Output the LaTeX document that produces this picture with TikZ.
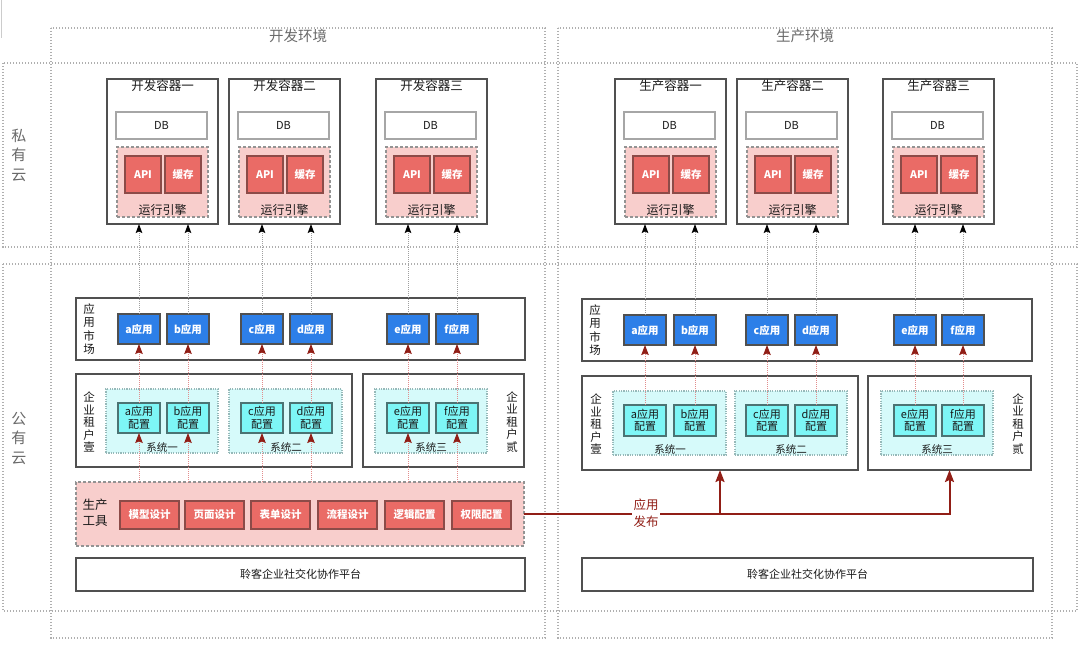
\documentclass[tikz,border=0pt]{standalone}
\usepackage{fontspec}
\setmainfont{Noto Sans CJK SC}
\usetikzlibrary{arrows.meta}
\definecolor{txt}{RGB}{25,25,25}
\definecolor{bd}{RGB}{80,80,80}
\definecolor{outerc}{RGB}{175,175,175}
\definecolor{enpink}{RGB}{248,206,204}
\definecolor{apired}{RGB}{234,107,102}
\definecolor{redbd}{RGB}{140,75,72}
\definecolor{appblue}{RGB}{45,127,232}
\definecolor{cfgcyan}{RGB}{125,246,246}
\definecolor{cfgbd}{RGB}{75,115,115}
\definecolor{syscyan}{RGB}{214,250,250}
\definecolor{sysbd}{RGB}{150,185,185}
\definecolor{reddot}{RGB}{226,140,140}
\definecolor{darkred}{RGB}{145,30,22}
\definecolor{graytxt}{RGB}{105,105,105}
\newcommand\mkbox[7]{%
  \node[#2, minimum width={((#5)-(#3))*1pt}, minimum height={((#6)-(#4))*1pt}] (#1) at ({((#3)+(#5))/2},{((#4)+(#6))/2}) {#7};}
\newcommand\mkcont[3]{%
  \mkbox{#1}{cont}{#2}{79}{#2+111}{224}{}
  \node[ctitle] at ({#2+55.5},86) {#3};
  \mkbox{#1db}{dbbox}{#2+9}{112}{#2+100}{139}{DB}
  \mkbox{#1en}{engine}{#2+10}{147}{#2+101}{217}{}
  \mkbox{#1api}{redbox}{#2+18}{156}{#2+54}{193}{API}
  \mkbox{#1cache}{redbox}{#2+58}{156}{#2+94}{193}{缓存}
  \node[enlabel] at ({#2+55.5},210) {运行引擎};}
\begin{document}
\begin{tikzpicture}[x=1pt,y=-1pt,
  every node/.style={inner sep=0pt, outer sep=0pt},
  outer/.style={draw=outerc, line width=1.2pt, dash pattern=on 1.3pt off 1.7pt},
  cont/.style={draw=bd, line width=1.6pt, fill=white},
  ctitle/.style={text=txt, font=\fontsize{12.5}{14}\selectfont},
  enlabel/.style={text=txt, font=\fontsize{12}{14}\selectfont},
  dbbox/.style={draw=gray!70, line width=1.2pt, fill=white, text=txt, font=\fontsize{11}{13}\selectfont},
  engine/.style={draw=gray!85, line width=1.1pt, dash pattern=on 3pt off 2pt, fill=enpink},
  redbox/.style={draw=redbd, line width=1.1pt, fill=apired, text=white, font=\bfseries\fontsize{10.5}{12}\selectfont},
  appbox/.style={draw=bd, line width=1.1pt, fill=appblue, text=white, font=\bfseries\fontsize{10.5}{12}\selectfont},
  cfgbox/.style={draw=cfgbd, line width=1.1pt, fill=cfgcyan, text=txt, align=center, font=\fontsize{11}{12.5}\selectfont},
  sysbox/.style={draw=sysbd, line width=1.1pt, dash pattern=on 1.2pt off 1.2pt, fill=syscyan},
  sysl/.style={text=txt, font=\fontsize{10.5}{12}\selectfont},
  group/.style={draw=bd, line width=1.6pt, fill=white},
  vlab/.style={text=txt, align=center, font=\fontsize{11.5}{13.5}\selectfont},
  tlab/.style={text=txt, align=center, font=\fontsize{11.5}{12.5}\selectfont},
  cloudl/.style={text=graytxt, align=center, font=\fontsize{15}{19.5}\selectfont},
  envl/.style={text=graytxt, font=\fontsize{14.5}{16}\selectfont},
  tools/.style={draw=gray!85, line width=1.1pt, dash pattern=on 3pt off 2pt, fill=enpink},
  plat/.style={draw=bd, line width=1.6pt, fill=white, text=txt, font=\fontsize{11}{13}\selectfont},
  graydot/.style={draw=gray!75, line width=1pt, dash pattern=on 1pt off 1pt, -{Stealth[length=9pt,width=6.5pt,inset=1.5pt,black]}},
  reddot/.style={draw=reddot, line width=1pt, dash pattern=on 1pt off 1pt, -{Stealth[length=10pt,width=7.5pt,inset=1.5pt,darkred]}},
  pub/.style={draw=darkred, line width=2pt, -{Stealth[length=12pt,width=9pt,inset=2pt]}},
]
\useasboundingbox (0,0) rectangle (1080,652);
% outer dotted regions
\draw[draw=gray!40, line width=1pt] (1.5,0) -- (1.5,38);
\draw[outer] (51,28) rectangle (545,638);
\draw[outer] (558,28) rectangle (1052,638);
\draw[outer] (3,63) rectangle (1077,247);
\draw[outer] (3,264) rectangle (1077,611);
\node[envl] (envdev) at (298,36) {开发环境};
\node[envl] (envprod) at (805,36) {生产环境};
\node[cloudl] (priv) at (19,155) {私\\有\\云};
\node[cloudl] (pub) at (19,438) {公\\有\\云};
% containers
\mkcont{dc1}{107}{开发容器一}
\mkcont{dc2}{229}{开发容器二}
\mkcont{dc3}{376}{开发容器三}
\mkcont{pc1}{615}{生产容器一}
\mkcont{pc2}{737}{生产容器二}
\mkcont{pc3}{883}{生产容器三}
% app markets
\mkbox{dmk}{group}{76}{298}{525}{360}{}
\node[vlab] at (89,329) {应\\用\\市\\场};
\mkbox{pmk}{group}{582}{299}{1032}{361}{}
\node[vlab] at (595,330) {应\\用\\市\\场};
\mkbox{daapp}{appbox}{118}{314}{160}{344}{a应用}
\mkbox{dbapp}{appbox}{167}{314}{209}{344}{b应用}
\mkbox{dcapp}{appbox}{241}{314}{283}{344}{c应用}
\mkbox{ddapp}{appbox}{290}{314}{332}{344}{d应用}
\mkbox{deapp}{appbox}{387}{314}{429}{344}{e应用}
\mkbox{dfapp}{appbox}{436}{314}{478}{344}{f应用}
\mkbox{paapp}{appbox}{624}{315}{666}{345}{a应用}
\mkbox{pbapp}{appbox}{674}{315}{716}{345}{b应用}
\mkbox{pcapp}{appbox}{746}{315}{788}{345}{c应用}
\mkbox{pdapp}{appbox}{795}{315}{837}{345}{d应用}
\mkbox{peapp}{appbox}{894}{315}{936}{345}{e应用}
\mkbox{pfapp}{appbox}{942}{315}{984}{345}{f应用}
% tenants
\mkbox{dt1}{group}{76}{374}{352}{467}{}
\node[tlab] at (89,422) {企\\业\\租\\户\\壹};
\mkbox{dt2}{group}{363}{374}{524}{467}{}
\node[tlab] at (512,422) {企\\业\\租\\户\\贰};
\mkbox{pt1}{group}{582}{376}{858}{470}{}
\node[tlab] at (596,424) {企\\业\\租\\户\\壹};
\mkbox{pt2}{group}{868}{376}{1031}{470}{}
\node[tlab] at (1018,424) {企\\业\\租\\户\\贰};
% systems
\mkbox{ds1}{sysbox}{106}{389}{218}{453}{}
\mkbox{ds2}{sysbox}{229}{389}{342}{453}{}
\mkbox{ds3}{sysbox}{375}{389}{487}{453}{}
\node[sysl] at (162,447) {系统一};
\node[sysl] at (286,447) {系统二};
\node[sysl] at (431,447) {系统三};
\mkbox{ps1}{sysbox}{613}{391}{726}{455}{}
\mkbox{ps2}{sysbox}{735}{391}{847}{455}{}
\mkbox{ps3}{sysbox}{881}{391}{993}{455}{}
\node[sysl] at (670,449) {系统一};
\node[sysl] at (791,449) {系统二};
\node[sysl] at (937,449) {系统三};
% configs
\mkbox{dacfg}{cfgbox}{118}{403}{160}{433}{a应用\\配置}
\mkbox{dbcfg}{cfgbox}{167}{403}{209}{433}{b应用\\配置}
\mkbox{dccfg}{cfgbox}{241}{403}{283}{433}{c应用\\配置}
\mkbox{ddcfg}{cfgbox}{290}{403}{332}{433}{d应用\\配置}
\mkbox{decfg}{cfgbox}{387}{403}{429}{433}{e应用\\配置}
\mkbox{dfcfg}{cfgbox}{436}{403}{478}{433}{f应用\\配置}
\mkbox{pacfg}{cfgbox}{624}{405}{666}{436}{a应用\\配置}
\mkbox{pbcfg}{cfgbox}{674}{405}{716}{436}{b应用\\配置}
\mkbox{pccfg}{cfgbox}{746}{405}{788}{436}{c应用\\配置}
\mkbox{pdcfg}{cfgbox}{795}{405}{837}{436}{d应用\\配置}
\mkbox{pecfg}{cfgbox}{894}{405}{936}{436}{e应用\\配置}
\mkbox{pfcfg}{cfgbox}{942}{405}{984}{436}{f应用\\配置}
% production tools
\mkbox{tools}{tools}{76}{482}{524}{546}{}
\node[text=txt, align=center, font=\fontsize{12.5}{16}\selectfont] at (95,513) {生产\\工具};
\mkbox{t1}{redbox}{120}{501}{179}{529}{模型设计}
\mkbox{t2}{redbox}{185}{501}{244}{529}{页面设计}
\mkbox{t3}{redbox}{251}{501}{310}{529}{表单设计}
\mkbox{t4}{redbox}{318}{501}{377}{529}{流程设计}
\mkbox{t5}{redbox}{385}{501}{444}{529}{逻辑配置}
\mkbox{t6}{redbox}{452}{501}{511}{529}{权限配置}
% platforms
\mkbox{dplat}{plat}{76}{558}{525}{591}{聆客企业社交化协作平台}
\mkbox{pplat}{plat}{582}{558}{1033}{591}{聆客企业社交化协作平台}
% connectors
\foreach \a/\c in {a/dc1,b/dc1,c/dc2,d/dc2,e/dc3,f/dc3}{
  \draw[graydot] (d\a app.north) -- (d\a app.north |- \c.south);
  \draw[reddot] (d\a cfg.north) -- (d\a app.south);
  \draw[reddot] (d\a cfg.south |- tools.north) -- (d\a cfg.south);
}
\foreach \a/\c in {a/pc1,b/pc1,c/pc2,d/pc2,e/pc3,f/pc3}{
  \draw[graydot] (p\a app.north) -- (p\a app.north |- \c.south);
  \draw[reddot] (p\a cfg.north) -- (p\a app.south);
}
\draw[pub] (tools.east) -| (pt2.south);
\draw[pub] (tools.east -| pt1.south) -- (pt1.south);
\node[fill=white, inner sep=1.5pt, text=darkred, align=center, font=\fontsize{12.5}{17}\selectfont] (publbl) at (646,513) {应用\\发布};
\end{tikzpicture}
\end{document}
